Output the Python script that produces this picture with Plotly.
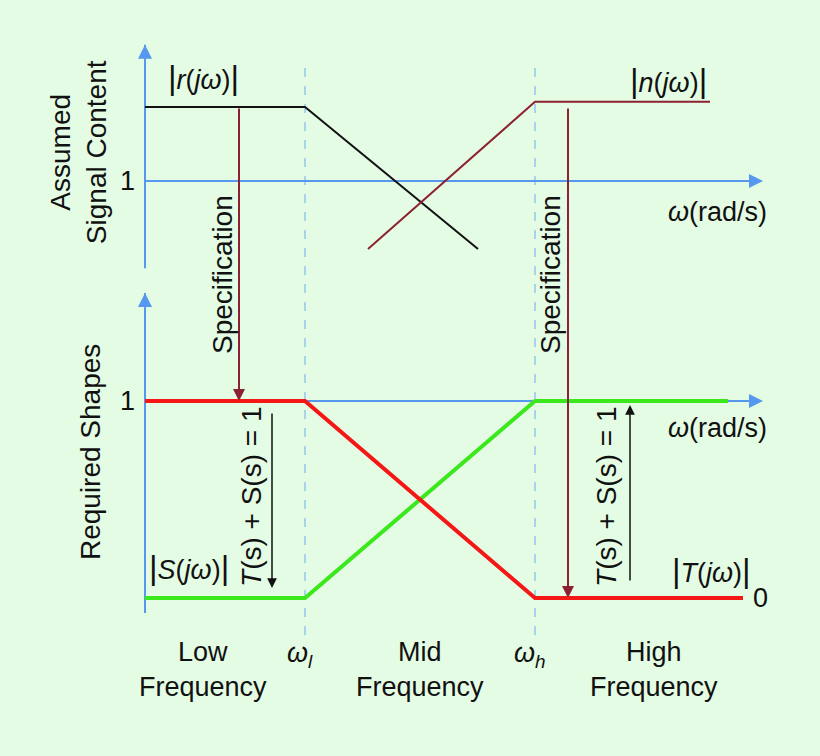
import plotly.graph_objects as go

# ---------------- data (schematic units) ----------------
# x: frequency axis (schematic), 0 = origin
w_low = 16.0          # omega_l
w_high = 39.0         # omega_h
x_axis_end = 61.8     # tip of the omega axes

# Top pane: assumed signal content (value 1 = unit line)
r_x = [0.0, w_low, 33.3]
r_y = [2.0, 2.0, 0.08]
n_x = [22.3, w_high, 56.5]
n_y = [0.08, 2.07, 2.07]

# Bottom pane: required shapes
T_x = [0.0, w_low, w_high, 59.8]
T_y = [1.0, 1.0, 0.0, 0.0]
S_x = [0.0, w_low, w_high, 58.3]
S_y = [0.0, 0.0, 1.0, 1.0]

spec_x = [9.4, 42.3]            # specification arrows
spec_from_top = [2.0, 2.0]      # top-pane start values
spec_to_bottom = [1.0, 0.0]     # bottom-pane end values

sum_x = [12.7, 48.5]            # T(s)+S(s)=1 arrows
sum_from = [0.944, 0.081]
sum_to = [0.051, 0.980]

region_x = [5.8, 27.5, 50.9]
region_labels = ["Low<br>Frequency", "Mid<br>Frequency", "High<br>Frequency"]

# axis extents (value units of each pane)
top_y_axis = [-0.18, 2.84]
bot_y_axis = [-0.076, 1.548]

# ---------------- layout constants ----------------
W, H = 820, 756
XR = [-14.5, 67.5]
YR_TOP = [-6.770, 3.446]
YR_BOT = [-0.802, 3.036]

BG = "#e4fce4"
BLUE = "#5598ee"
DASH_BLUE = "#6aaaf5"
RED = "#f51616"
GREEN = "#3ae81c"
DARKRED = "#8c2133"
BLACK = "#111111"
FONT = "Liberation Sans, Arial, Helvetica, sans-serif"
FS = 27
FSV = 28


def px_y(v, rng):
    return H * (1 - (v - rng[0]) / (rng[1] - rng[0]))


fig = go.Figure()

# axis lines (drawn first so curves sit on top)
for ya, yext in (("y", top_y_axis), ("y2", bot_y_axis)):
    fig.add_trace(go.Scatter(x=[0, 0], y=yext, mode="lines", line=dict(color=BLUE, width=2),
                             yaxis=ya, hoverinfo="skip"))
    fig.add_trace(go.Scatter(x=[0, x_axis_end - 1.0], y=[1, 1], mode="lines",
                             line=dict(color=BLUE, width=2), yaxis=ya, hoverinfo="skip"))

# top pane curves
fig.add_trace(go.Scatter(x=r_x, y=r_y, mode="lines", line=dict(color=BLACK, width=2),
                         yaxis="y", hoverinfo="skip"))
fig.add_trace(go.Scatter(x=n_x, y=n_y, mode="lines", line=dict(color=DARKRED, width=2),
                         yaxis="y", hoverinfo="skip"))
# bottom pane curves
fig.add_trace(go.Scatter(x=S_x, y=S_y, mode="lines", line=dict(color=GREEN, width=4),
                         yaxis="y2", hoverinfo="skip"))
fig.add_trace(go.Scatter(x=T_x, y=T_y, mode="lines", line=dict(color=RED, width=4),
                         yaxis="y2", hoverinfo="skip"))

shapes = []
# dashed vertical guide lines at omega_l and omega_h (span both panes)
for xv in (w_low, w_high):
    shapes.append(dict(type="line", xref="x", yref="paper", x0=xv, x1=xv,
                       y0=1 - 635 / H, y1=1 - 63 / H,
                       line=dict(color=DASH_BLUE, width=1, dash="dash"), layer="below"))

annotations = []


def arrow(x, y, ax, ay, yref, color, width=2, size=1.0):
    annotations.append(dict(x=x, y=y, ax=ax, ay=ay, xref="x", yref=yref,
                            axref="x", ayref=yref, text="",
                            showarrow=True, arrowhead=2, arrowsize=size,
                            arrowwidth=width, arrowcolor=color, standoff=0,
                            startstandoff=0))


# arrowheads of the axes (short segments at the tips)
arrow(0, top_y_axis[1], 0, top_y_axis[1] - 0.3, "y", BLUE, 2, 1.4)
arrow(x_axis_end, 1.0, x_axis_end - 2.0, 1.0, "y", BLUE, 2, 1.4)
arrow(0, bot_y_axis[1], 0, bot_y_axis[1] - 0.1, "y2", BLUE, 2, 1.4)
arrow(x_axis_end, 1.0, x_axis_end - 2.0, 1.0, "y2", BLUE, 2, 1.4)

# specification arrows from top pane to bottom pane
for xs, v0, v1 in zip(spec_x, spec_from_top, spec_to_bottom):
    off = px_y(v0, YR_TOP) - px_y(v1, YR_BOT)
    annotations.append(dict(x=xs, y=v1, xref="x", yref="y2", ax=0, ay=off,
                            axref="pixel", ayref="pixel", text="", showarrow=True,
                            arrowhead=2, arrowsize=1.2, arrowwidth=2,
                            arrowcolor=DARKRED, standoff=0))

# T+S=1 arrows
for xs, v0, v1 in zip(sum_x, sum_from, sum_to):
    arrow(xs, v1, xs, v0, "y2", BLACK, 1.5, 1.3)


def label(x, y, yref, text, size=FS, angle=0, xanchor="center", yanchor="middle"):
    annotations.append(dict(x=x, y=y, xref="x", yref=yref, text=text, showarrow=False,
                            textangle=angle, xanchor=xanchor, yanchor=yanchor,
                            font=dict(family=FONT, size=size, color=BLACK)))


BAR = "<span style='font-size:33px'>|</span>"
label(5.8, 2.405, "y", f"{BAR}<i>r</i>(<i>jω</i>){BAR}")
label(52.3, 2.365, "y", f"{BAR}<i>n</i>(<i>jω</i>){BAR}")
label(57.2, 0.581, "y", "<i>ω</i>(rad/s)")
label(-1.8, 1.0, "y", "1")
label(-6.7, 1.39, "y", "Assumed<br>Signal Content", size=FSV, angle=-90)
label(7.8, -0.27, "y", "Specification", size=FSV, angle=-90)
label(40.6, -0.27, "y", "Specification", size=FSV, angle=-90)

label(-1.8, 1.0, "y2", "1")
label(57.2, 0.863, "y2", "<i>ω</i>(rad/s)")
label(4.4, 0.157, "y2", f"{BAR}<i>S</i>(<i>jω</i>){BAR}")
label(56.6, 0.142, "y2", f"{BAR}<i>T</i>(<i>jω</i>){BAR}")
label(60.6, 0.0, "y2", "0", xanchor="left")
label(-5.5, 0.741, "y2", "Required Shapes", size=FSV, angle=-90)
label(10.7, 0.513, "y2", "<i>T</i>(s) + S(s) = 1", size=FSV, angle=-90)
label(46.2, 0.513, "y2", "<i>T</i>(s) + S(s) = 1", size=FSV, angle=-90)
label(15.5, -0.289, "y2", "<i>ω<sub>l</sub></i>")
label(38.5, -0.289, "y2", "<i>ω<sub>h</sub></i>")
for xr, t in zip(region_x, region_labels):
    label(xr, -0.365, "y2", t)

fig.update_layout(
    width=W, height=H,
    margin=dict(l=0, r=0, t=0, b=0),
    paper_bgcolor=BG, plot_bgcolor=BG,
    showlegend=False,
    xaxis=dict(range=XR, visible=False, fixedrange=True),
    yaxis=dict(range=YR_TOP, visible=False, fixedrange=True),
    yaxis2=dict(range=YR_BOT, visible=False, overlaying="y", fixedrange=True),
    shapes=shapes,
    annotations=annotations,
    font=dict(family=FONT, size=FS, color=BLACK),
)

fig.write_html(
    "out.html",
    config={"displayModeBar": False},
    post_script="document.body.style.margin='0';document.body.style.padding='0';"
                "document.body.style.background='" + BG + "';",
)
